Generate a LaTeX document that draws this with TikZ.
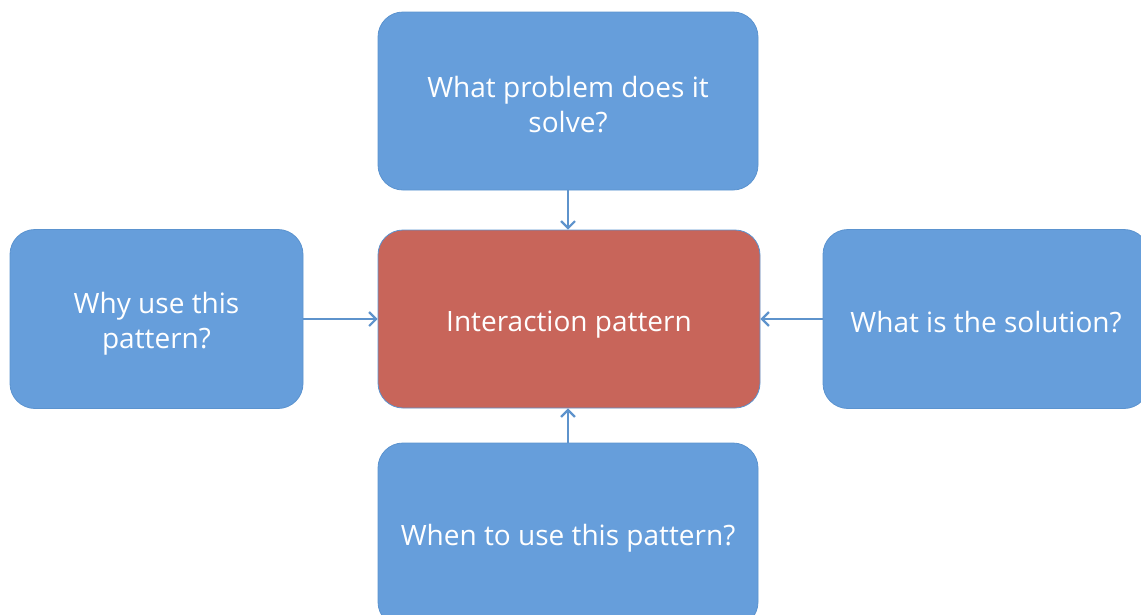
\documentclass[tikz,border=0pt]{standalone}
\usepackage{fontspec}
\setmainfont{Open Sans}
\usetikzlibrary{arrows.meta}
\definecolor{boxblue}{HTML}{669EDB}
\definecolor{boxedge}{HTML}{5B93CF}
\definecolor{boxred}{HTML}{C8655A}
\definecolor{arrowblue}{HTML}{5E93CC}
\begin{document}
\begin{tikzpicture}[x=1pt,y=-1pt,
  box/.style={draw=boxedge, line width=0.8pt, fill=boxblue, rounded corners=25pt, inner sep=0pt},
  redbox/.style={box, fill=boxred},
  lbl/.style={text=white, align=center, inner sep=0pt, font=\fontsize{28}{35}\selectfont},
  conn/.style={draw=arrowblue, line width=2.2pt, -{Straight Barb[length=7pt,width=14pt,line width=2.2pt]}}]
\useasboundingbox (0,0) rectangle (1141,614);
\clip (0,0) rectangle (1141,614);
\node[box, minimum width=380pt, minimum height=178pt] (top) at (568,101) {};
\node[redbox, minimum width=382pt, minimum height=178pt] (center) at (569,319) {};
\node[box, minimum width=293pt, minimum height=179pt] (left) at (156.5,319) {};
\node[box, minimum width=326pt, minimum height=179pt] (right) at (986,319) {};
\node[box, minimum width=380pt, minimum height=184pt] (bottom) at (568,535) {};
\node[lbl] (toptext) at ([yshift=-4pt]top.center) {What problem does it\\solve?};
\node[lbl] (centertext) at ([yshift=-6pt]center.center) {Interaction pattern};
\node[lbl] (lefttext) at ([yshift=-5pt]left.center) {Why use this\\pattern?};
\node[lbl] (righttext) at ([yshift=-3pt]right.center) {What is the solution?};
\node[lbl] (bottomtext) at ([yshift=-3pt]bottom.center) {When to use this pattern?};
\draw[conn] (top.south) -- (center.north -| top.south);
\draw[conn] (left.east) -- (center.west);
\draw[conn] (right.west) -- (center.east);
\draw[conn] (bottom.north) -- (center.south -| bottom.north);
\end{tikzpicture}
\end{document}
